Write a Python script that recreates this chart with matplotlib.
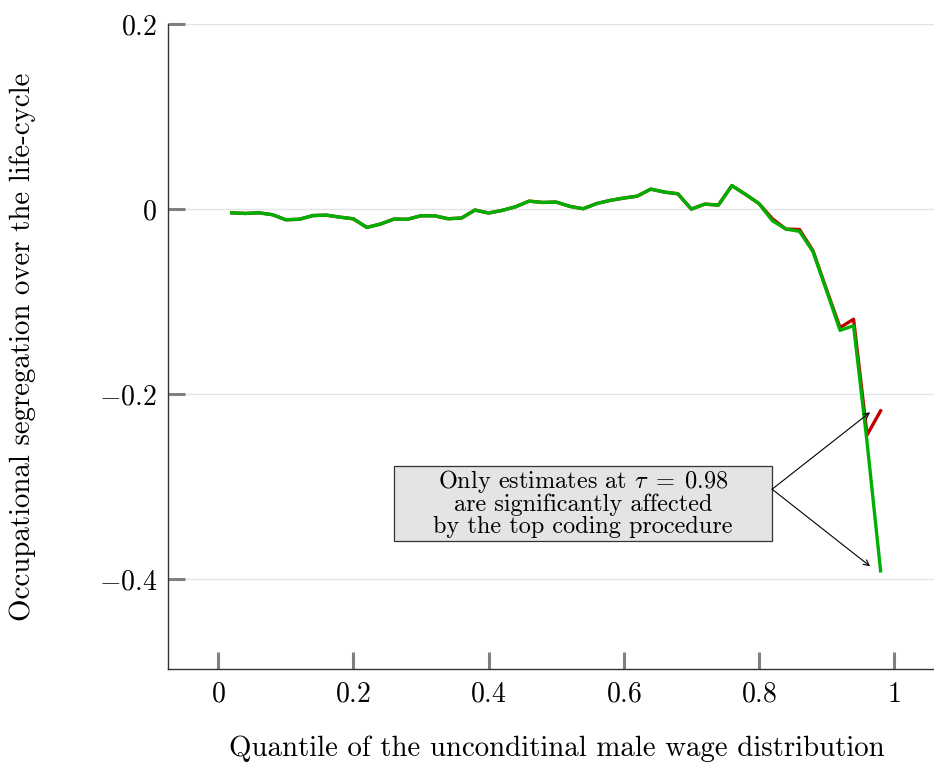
import numpy as np
import matplotlib
matplotlib.use("Agg")
import matplotlib.pyplot as plt
from matplotlib.patches import Rectangle

plt.rcParams["font.family"] = ["cmr10", "DejaVu Serif"]
plt.rcParams["mathtext.fontset"] = "cm"
plt.rcParams["axes.formatter.use_mathtext"] = True

# Quantiles tau = 0.02 ... 0.98
quantiles = [0.02, 0.04, 0.06, 0.08, 0.10, 0.12, 0.14, 0.16, 0.18, 0.20,
             0.22, 0.24, 0.26, 0.28, 0.30, 0.32, 0.34, 0.36, 0.38, 0.40,
             0.42, 0.44, 0.46, 0.48, 0.50, 0.52, 0.54, 0.56, 0.58, 0.60,
             0.62, 0.64, 0.66, 0.68, 0.70, 0.72, 0.74, 0.76, 0.78, 0.80,
             0.82, 0.84, 0.86, 0.88, 0.90, 0.92, 0.94, 0.96, 0.98]

# Estimates with top-coded wages imputed
seg_imputed = [-0.004, -0.0047, -0.004, -0.006, -0.0115, -0.011, -0.007, -0.0065, -0.0087, -0.0105,
               -0.0198, -0.0162, -0.0108, -0.011, -0.0072, -0.0072, -0.0104, -0.0097, -0.001, -0.0043,
               -0.0014, 0.0025, 0.0086, 0.0072, 0.0076, 0.003, 0.0004, 0.006, 0.0094, 0.0119,
               0.014, 0.0216, 0.0184, 0.0166, 0.0, 0.0054, 0.0043, 0.0254, 0.016, 0.006,
               -0.0126, -0.0216, -0.024, -0.046, -0.088, -0.131, -0.126, -0.252, -0.391]

# Estimates without the top coding correction
seg_raw = [-0.004, -0.0047, -0.004, -0.006, -0.0115, -0.011, -0.007, -0.0065, -0.0087, -0.0105,
           -0.0198, -0.0162, -0.0108, -0.011, -0.0072, -0.0072, -0.0104, -0.0097, -0.001, -0.0043,
           -0.0014, 0.0025, 0.0086, 0.0072, 0.0076, 0.003, 0.0004, 0.006, 0.0094, 0.0119,
           0.014, 0.0216, 0.0184, 0.0166, 0.0, 0.0054, 0.0043, 0.0254, 0.016, 0.006,
           -0.0105, -0.0216, -0.022, -0.045, -0.087, -0.128, -0.119, -0.244, -0.218]

xticks = [0, 0.2, 0.4, 0.6, 0.8, 1.0]
xtick_labels = ["$0$", "$0.2$", "$0.4$", "$0.6$", "$0.8$", "$1$"]
yticks = [-0.4, -0.2, 0.0, 0.2]
ytick_labels = ["$-0.4$", "$-0.2$", "$0$", "$0.2$"]

fig = plt.figure(figsize=(9.34, 7.63), dpi=100)
ax = fig.add_axes([0.18, 0.1232, 0.82, 0.8453])

ax.plot(quantiles, seg_raw, color="#c00000", lw=2.4, zorder=3)
ax.plot(quantiles, seg_imputed, color="#00b000", lw=2.4, zorder=4)

ax.set_xlim(-0.074, 1.059)
ax.set_ylim(-0.497, 0.2)
ax.set_xticks(xticks)
ax.set_xticklabels(xtick_labels)
ax.set_yticks(yticks)
ax.set_yticklabels(ytick_labels)

ax.grid(axis="y", color="#e4e4e4", lw=1.0)
ax.set_axisbelow(True)
for s in ["top", "right"]:
    ax.spines[s].set_visible(False)
for s in ["left", "bottom"]:
    ax.spines[s].set_color("#333333")
    ax.spines[s].set_linewidth(1.0)

ax.tick_params(axis="both", direction="in", length=12, width=2.2, color="#808080",
               labelsize=20)
ax.tick_params(axis="x", pad=9)
ax.tick_params(axis="y", pad=8)

ax.set_xlabel("Quantile of the unconditinal male wage distribution", fontsize=20.8)
ax.set_ylabel("Occupational segregation over the life-cycle", fontsize=20.8)
ax.xaxis.set_label_coords(0.507, -0.103)
ax.yaxis.set_label_coords(-0.172, 0.5)

# Note box with two arrows pointing at the tau = 0.98 estimates
box_x0, box_x1 = 0.2604, 0.8195
box_y0, box_y1 = -0.359, -0.2778
ax.add_patch(Rectangle((box_x0, box_y0), box_x1 - box_x0, box_y1 - box_y0,
                       facecolor="#e4e4e4", edgecolor="#333333", lw=0.9, zorder=5))
note = "Only estimates at $\\tau\\;=\\;0.98$\nare significantly affected\nby the top coding procedure"
ax.text((box_x0 + box_x1) / 2, (box_y0 + box_y1) / 2 + 0.001, note,
        ha="center", va="center", fontsize=17.5, linespacing=0.95, zorder=6)

arrow_origin = (box_x1, -0.3027)
for target in [(0.9645, -0.2195), (0.9645, -0.386)]:
    ax.annotate("", xy=target, xytext=arrow_origin, textcoords="data",
                arrowprops=dict(arrowstyle="->", color="black", lw=0.8,
                                shrinkA=0, shrinkB=0), zorder=6)

fig.savefig("out.png", dpi=100)
